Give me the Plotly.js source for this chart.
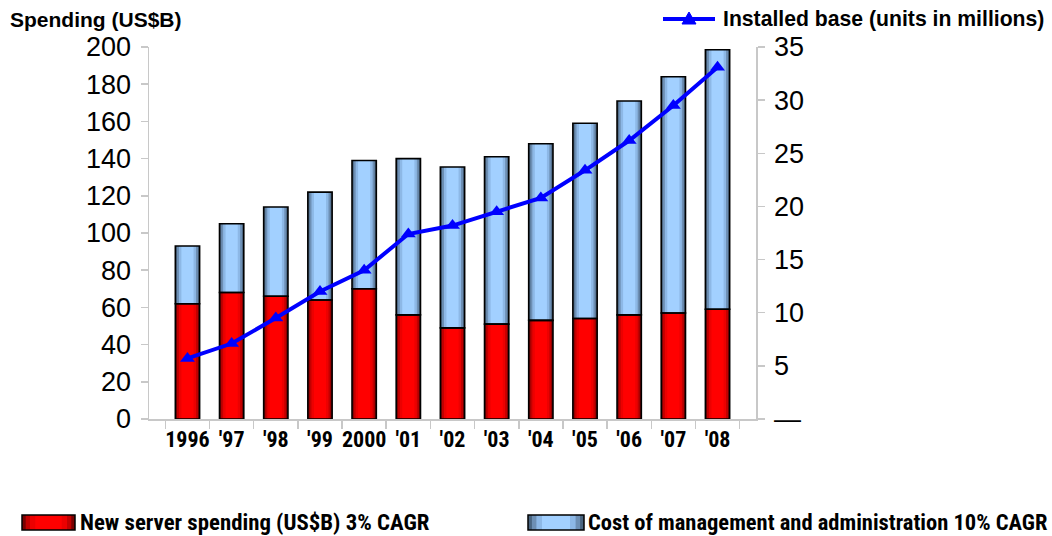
<!DOCTYPE html>
<html>
<head>
<meta charset="utf-8">
<script src="https://cdn.plot.ly/plotly-3.0.1.min.js"></script>
<style>html,body{margin:0;padding:0;background:#fff}#chart{width:1052px;height:536px}</style>
</head>
<body>
<div id="chart"></div>
<script>
// ---- data ----
const categories = ["1996", "'97", "'98", "'99", "2000", "'01", "'02", "'03", "'04", "'05", "'06", "'07", "'08"];
const newServerSpending = [62, 68, 66, 64, 70, 56, 49, 51, 53, 54, 56, 57, 59];
const mgmtAdminCost = [31, 37, 48, 58, 69, 84, 86.5, 90, 95, 105, 115, 127, 139.5];
const installedBase = [5.7, 7.1, 9.5, 12.0, 14.0, 17.4, 18.2, 19.5, 20.8, 23.4, 26.2, 29.5, 33.1];
const rightTickVals = [0, 5, 10, 15, 20, 25, 30, 35];
const rightTickText = ["\u2014", "5", "10", "15", "20", "25", "30", "35"];
const seriesNames = ["New server spending (US$B) 3% CAGR", "Cost of management and administration 10% CAGR", "Installed base (units in millions)"];

// ---- geometry ----
const W = 1052, H = 536;
const M = {l: 149, r: 296, t: 47, b: 117};
const PW = W - M.l - M.r, PH = H - M.t - M.b;
const px = x => (x - M.l) / PW;
const py = y => (H - M.b - y) / PH;

const BW = 0.55;
const redShades = [["#7a0000", 1.0], ["#c20000", 0.86], ["#ec0000", 0.7], ["#ff0000", 0.5]];
const blueShades = [["#4a6580", 1.0], ["#6d8fb4", 0.86], ["#8db8e6", 0.7], ["#a2d0ff", 0.5]];

function shaded(vals, base, shades) {
  return shades.map(([c, f]) => ({
    type: 'bar', x: categories, y: vals, base: base, width: BW * f,
    marker: {color: c, line: {width: 0}}, hoverinfo: 'skip', showlegend: false
  }));
}
function outline(vals, base) {
  return {type: 'bar', x: categories, y: vals, base: base, width: BW,
    marker: {color: 'rgba(0,0,0,0)', line: {color: '#000', width: 1.6}}, hoverinfo: 'skip', showlegend: false};
}
const zeros = categories.map(() => 0);
const traces = [
  ...shaded(newServerSpending, zeros, redShades),
  ...shaded(mgmtAdminCost, newServerSpending, blueShades),
  outline(newServerSpending, zeros),
  outline(mgmtAdminCost, newServerSpending),
  {type: 'scatter', mode: 'lines+markers', x: categories, y: installedBase, yaxis: 'y2',
   line: {color: '#0000ff', width: 4}, marker: {symbol: 'triangle-up', size: 13, color: '#0000ff'},
   name: seriesNames[2], showlegend: false, hoverinfo: 'skip'}
];

const axisCol = '#c8c8c8';
const numFont = {family: 'Liberation Sans, Arial, sans-serif', size: 27, color: '#000'};
const narrowBold = {family: 'Roboto Condensed, Roboto, sans-serif', size: 22, color: '#000', weight: 'bold'};

// legend swatches (paper coords)
function swatch(x0, x1, y0, y1, shades) {
  const out = [];
  const cx = (x0 + x1) / 2, hw = (x1 - x0) / 2;
  shades.forEach(([c, f]) => out.push({type: 'rect', xref: 'paper', yref: 'paper',
    x0: px(cx - hw * f), x1: px(cx + hw * f), y0: py(y1), y1: py(y0), fillcolor: c, line: {width: 0}}));
  out.push({type: 'rect', xref: 'paper', yref: 'paper', x0: px(x0), x1: px(x1), y0: py(y1), y1: py(y0),
    fillcolor: 'rgba(0,0,0,0)', line: {color: '#000', width: 1.5}});
  return out;
}
const shapes = [
  ...swatch(22, 75, 515, 530, redShades),
  ...swatch(528, 584, 515, 530, blueShades),
  {type: 'line', xref: 'paper', yref: 'paper', x0: px(663), x1: px(715), y0: py(19), y1: py(19), line: {color: '#0000ff', width: 4}},
  {type: 'path', xref: 'paper', yref: 'paper',
   path: `M ${px(682)} ${py(24)} L ${px(696)} ${py(24)} L ${px(689)} ${py(12)} Z`, fillcolor: '#0000ff', line: {color: '#0000ff', width: 1}}
];

const annotations = [
  {text: 'Spending (US$B)', xref: 'paper', yref: 'paper', x: px(8), y: py(19), xanchor: 'left', yanchor: 'middle', showarrow: false,
   font: {family: 'Liberation Sans, Arial, sans-serif', size: 21, color: '#000', weight: 'bold'}},
  {text: seriesNames[2], xref: 'paper', yref: 'paper', x: px(721), y: py(19), xanchor: 'left', yanchor: 'middle', showarrow: false,
   font: {family: 'Liberation Sans, Arial, sans-serif', size: 21.2, color: '#000', weight: 'bold'}},
  {text: seriesNames[0], xref: 'paper', yref: 'paper', x: px(78), y: py(522), xanchor: 'left', yanchor: 'middle', showarrow: false,
   font: Object.assign({}, narrowBold, {size: 22.8})},
  {text: seriesNames[1], xref: 'paper', yref: 'paper', x: px(586), y: py(522), xanchor: 'left', yanchor: 'middle', showarrow: false,
   font: Object.assign({}, narrowBold, {size: 22.5})}
];

const layout = {
  width: W, height: H, margin: M, paper_bgcolor: '#fff', plot_bgcolor: '#fff',
  barmode: 'overlay', showlegend: false,
  xaxis: {type: 'category', showline: true, linecolor: axisCol, linewidth: 1.5, ticks: 'outside', tickson: 'boundaries',
    ticklen: 8, tickcolor: axisCol, tickwidth: 1.5, tickfont: narrowBold, tickangle: 0, showgrid: false, zeroline: false, fixedrange: true},
  yaxis: {range: [0, 200], dtick: 20, showline: true, linecolor: axisCol, linewidth: 1.5, ticks: 'outside', ticklen: 7,
    tickcolor: axisCol, tickwidth: 1.5, tickfont: numFont, showgrid: false, zeroline: false, ticklabelstandoff: 4},
  yaxis2: {overlaying: 'y', side: 'right', range: [0, 35], tickvals: rightTickVals, ticktext: rightTickText,
    showline: true, linecolor: axisCol, linewidth: 1.5, ticks: 'outside', ticklen: 7, tickcolor: axisCol, tickwidth: 1.5,
    tickfont: numFont, showgrid: false, zeroline: false, ticklabelstandoff: 4},
  shapes: shapes, annotations: annotations
};
Plotly.newPlot('chart', traces, layout, {displayModeBar: false, staticPlot: true});
</script>
</body>
</html>
